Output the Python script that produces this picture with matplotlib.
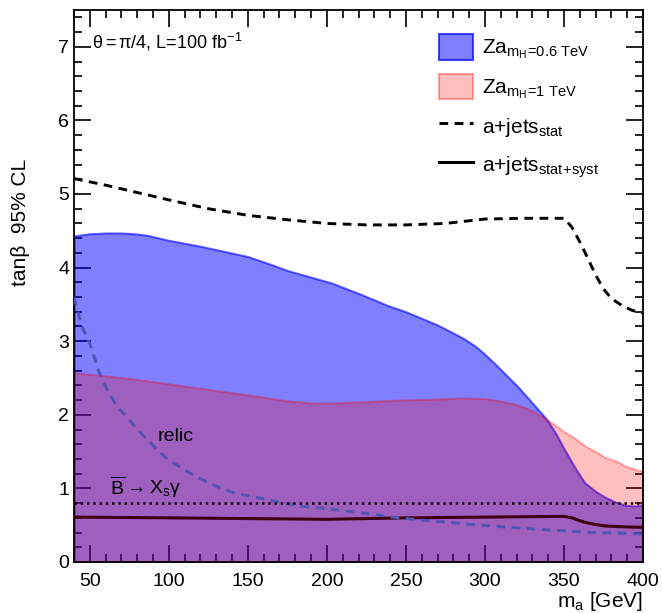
import matplotlib
matplotlib.use("Agg")
import matplotlib.pyplot as plt
from matplotlib.patches import Patch
from matplotlib.lines import Line2D

plt.rcParams['font.family'] = ['Liberation Sans', 'DejaVu Sans']
plt.rcParams['mathtext.fontset'] = 'custom'
plt.rcParams['mathtext.rm'] = 'Liberation Sans'
plt.rcParams['mathtext.it'] = 'Liberation Sans:italic'
plt.rcParams['mathtext.default'] = 'regular'

# Za, m_H = 0.6 TeV (blue band upper edge)
x_h06 = [40, 50, 60, 70, 78, 86, 94, 100, 110, 120, 135, 150, 165, 175, 190, 203,
         220, 239, 250, 260, 270, 280, 287, 294, 300, 306, 312, 320, 330, 339,
         345, 350, 357, 363, 370, 376, 382, 389, 395, 400]
y_h06 = [4.43, 4.46, 4.47, 4.47, 4.46, 4.44, 4.4, 4.37, 4.33, 4.29, 4.22, 4.15,
         4.04, 3.96, 3.87, 3.79, 3.65, 3.48, 3.4, 3.31, 3.22, 3.11, 3.03, 2.93,
         2.82, 2.7, 2.57, 2.4, 2.16, 1.94, 1.74, 1.54, 1.28, 1.08, 0.96, 0.88,
         0.82, 0.77, 0.76, 0.78]

# Za, m_H = 1 TeV (pink band upper edge)
x_h1 = [40, 60, 80, 100, 120, 150, 175, 190, 203, 225, 245, 265, 287, 300, 309,
        318, 325, 332, 339, 345, 350, 357, 363, 370, 376, 383, 389, 395, 400]
y_h1 = [2.57, 2.53, 2.48, 2.42, 2.36, 2.27, 2.19, 2.16, 2.16, 2.18, 2.2, 2.21,
        2.23, 2.22, 2.19, 2.15, 2.1, 2.03, 1.94, 1.85, 1.77, 1.68, 1.58, 1.5,
        1.42, 1.37, 1.3, 1.26, 1.23]

# a+jets stat
x_stat = [40, 60, 80, 100, 125, 150, 175, 200, 225, 250, 275, 300, 325, 350,
          355, 360, 365, 370, 375, 380, 387, 393, 400]
y_stat = [5.21, 5.12, 5.02, 4.92, 4.8, 4.71, 4.65, 4.6, 4.58, 4.58, 4.6, 4.66,
          4.67, 4.67, 4.55, 4.35, 4.13, 3.9, 3.71, 3.58, 3.48, 3.42, 3.38]

# a+jets stat+syst
x_syst = [40, 100, 150, 200, 250, 300, 350, 355, 360, 365, 370, 376, 385, 400]
y_syst = [0.61, 0.6, 0.59, 0.58, 0.6, 0.61, 0.62, 0.6, 0.56, 0.53, 0.51, 0.49,
          0.48, 0.47]

# relic
x_relic = [40, 45, 50, 56, 62, 67, 75, 82, 90, 99, 110, 120, 130, 141, 152, 162,
           172, 183, 202, 225, 245, 265, 287, 310, 330, 360, 400]
y_relic = [3.6, 3.2, 2.97, 2.57, 2.3, 2.12, 1.93, 1.76, 1.58, 1.4, 1.25, 1.13,
           1.03, 0.94, 0.89, 0.85, 0.8, 0.76, 0.72, 0.66, 0.6, 0.56, 0.52, 0.48,
           0.45, 0.41, 0.38]

bsg = 0.8

fig = plt.figure(figsize=(6.62, 6.13), dpi=100)
ax = fig.add_axes([0.1118, 0.0832, 0.8595, 0.9005])
ax.set_axisbelow(True)

ax.fill_between(x_h06, 0, y_h06, facecolor=(0, 0, 1, 0.5), edgecolor=(0, 0, 1, 0.6),
                linewidth=1.5, zorder=1)
ax.fill_between(x_h1, 0, y_h1, facecolor=(1, 0, 0, 0.25), edgecolor=(1, 0, 0, 0.3),
                linewidth=1.5, zorder=1.1)

dash = (0, (3, 2.2))
ax.plot(x_stat, y_stat, color='black', ls=dash, lw=2.1, zorder=3)
ax.plot(x_syst, y_syst, color='#3c0010', lw=2.2, zorder=3)
ax.plot(x_relic, y_relic, color='#5254b4', ls=dash, lw=2.1, zorder=3)
ax.axhline(bsg, color='#1a0010', ls=(0, (1, 1.5)), lw=1.8, zorder=3)

ax.set_xlim(40, 400)
ax.set_ylim(0, 7.5)
ax.set_xticks(range(50, 401, 50))
ax.set_xticks(range(40, 401, 10), minor=True)
ax.set_yticks(range(0, 8))
ax.set_yticks([i * 0.2 for i in range(38)], minor=True)
ax.tick_params(which='both', direction='in', top=True, right=True, labelsize=14,
               width=1.2)
ax.tick_params(which='major', length=12)
ax.tick_params(which='minor', length=6)
ax.tick_params(axis='x', pad=8)
for s in ax.spines.values():
    s.set_linewidth(1.3)

ax.set_xlabel('m$_a$ [GeV]', fontsize=15, loc='right', labelpad=0)
ax.set_ylabel('tanβ  95% CL', fontsize=15)
ax.yaxis.set_label_coords(-0.078, 0.616)

ax.text(51.4, 7.07, r'$\theta=\pi/4$, L=100 fb$^{-1}$', fontsize=13, va='center')
ax.text(92.6, 1.70, 'relic', fontsize=14, va='center')
ax.text(62.8, 1.02, r'$\overline{B}\rightarrow X_s\gamma$', fontsize=14, va='center')

handles = [
    Patch(facecolor=(0, 0, 1, 0.5), edgecolor=(0, 0, 1, 0.7), linewidth=1.5),
    Patch(facecolor=(1, 0, 0, 0.25), edgecolor=(1, 0, 0, 0.35), linewidth=1.5),
    Line2D([], [], color='black', ls=dash, lw=2.1),
    Line2D([], [], color='black', lw=2.2),
]
labels = [
    r'Za$_{m_{H}\!=\!0.6\ TeV}$',
    r'Za$_{m_{H}\!=\!1\ TeV}$',
    r'a+jets$_{stat}$',
    r'a+jets$_{stat\!+\!syst}$',
]
ax.legend(handles, labels, loc='upper left', bbox_to_anchor=(0.608, 0.99),
          frameon=False, fontsize=15, handlelength=1.65, handleheight=1.5,
          labelspacing=0.6, handletextpad=0.45)

fig.savefig('out.png', dpi=100)
